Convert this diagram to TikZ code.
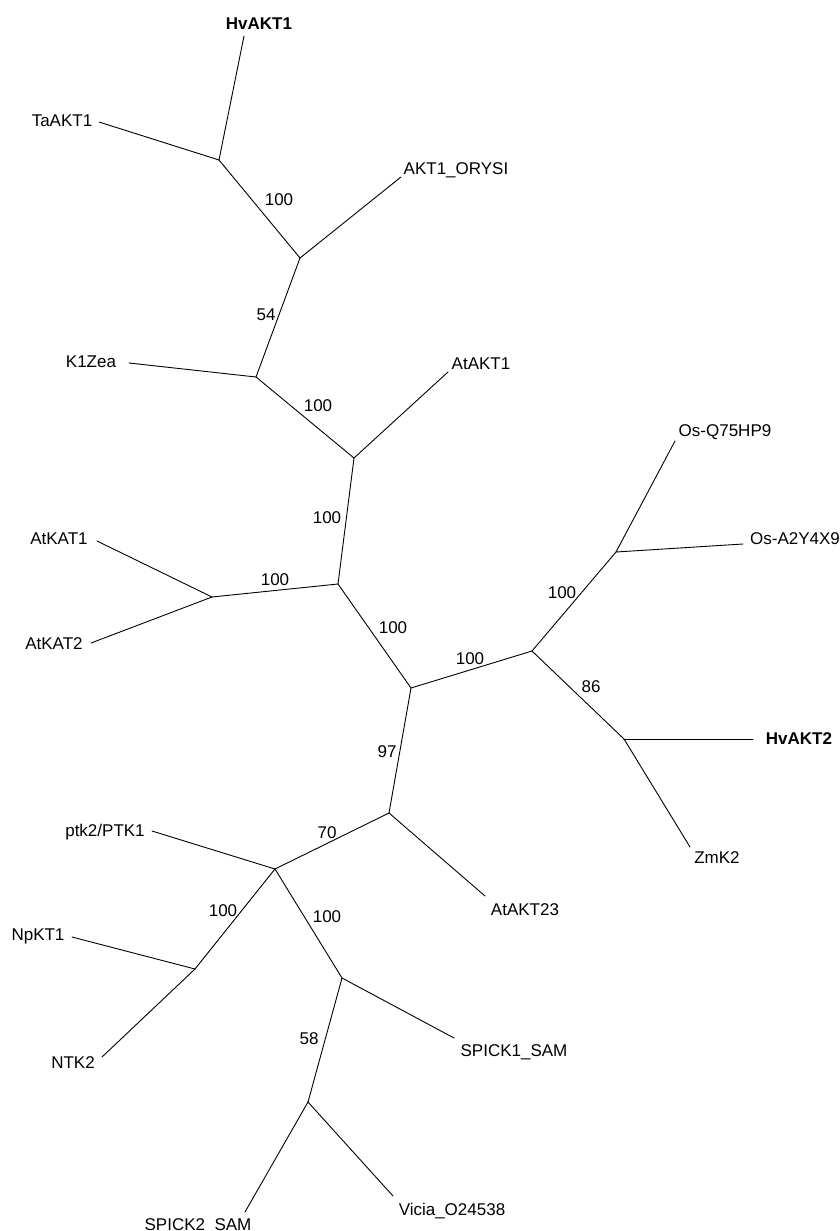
\documentclass[tikz,border=0pt]{standalone}
\usepackage{fontspec}
\setmainfont{Liberation Sans}
\begin{document}
\begin{tikzpicture}[x=1pt,y=-1pt,
  branch/.style={line width=0.9pt,line cap=round},
  taxon/.style={inner sep=0pt,text height=12.2pt,text depth=0pt,font=\fontsize{17}{20}\selectfont},
  keytaxon/.style={taxon,font=\fontsize{17}{20}\selectfont\bfseries},
  boot/.style={inner sep=0pt,text height=12.2pt,text depth=0pt,font=\fontsize{17}{20}\selectfont}]
\clip (0,0) rectangle (840,1231);
\fill[white] (0,0) rectangle (840,1231);

% internal nodes of the unrooted tree
\coordinate (nA) at (219,160);
\coordinate (nB) at (300,258);
\coordinate (nC) at (256,377);
\coordinate (nD) at (354,458);
\coordinate (nE) at (338,584);
\coordinate (nF) at (212,597);
\coordinate (nI) at (411,688);
\coordinate (nH) at (532,651);
\coordinate (nG) at (616,552);
\coordinate (nJ) at (624,739);
\coordinate (nK) at (389,813);
\coordinate (nL) at (275,869);
\coordinate (nM) at (195,969);
\coordinate (nN) at (342,978);
\coordinate (nO) at (308,1102);

% leaf tips
\coordinate (tHvAKT1) at (244,36);
\coordinate (tTaAKT1) at (99,122);
\coordinate (tORYSI) at (401,177);
\coordinate (tK1Zea) at (129,363);
\coordinate (tAtAKT1) at (448,372);
\coordinate (tAtKAT1) at (97,541);
\coordinate (tAtKAT2) at (91,643);
\coordinate (tQ75) at (675,441);
\coordinate (tA2Y) at (743,544);
\coordinate (tHvAKT2) at (753,739);
\coordinate (tZmK2) at (690,847);
\coordinate (tAtAKT23) at (485,896);
\coordinate (tPTK) at (152,831);
\coordinate (tNpKT1) at (72,937);
\coordinate (tNTK2) at (102,1057);
\coordinate (tSPICK1) at (454,1038);
\coordinate (tVicia) at (393,1196);
\coordinate (tSPICK2) at (245,1212);

% inner branches
\draw[branch] (nA) -- (nB);
\draw[branch] (nB) -- (nC);
\draw[branch] (nC) -- (nD);
\draw[branch] (nD) -- (nE);
\draw[branch] (nE) -- (nF);
\draw[branch] (nE) -- (nI);
\draw[branch] (nI) -- (nH);
\draw[branch] (nH) -- (nG);
\draw[branch] (nH) -- (nJ);
\draw[branch] (nI) -- (nK);
\draw[branch] (nK) -- (nL);
\draw[branch] (nL) -- (nM);
\draw[branch] (nL) -- (nN);
\draw[branch] (nN) -- (nO);

% terminal branches
\draw[branch] (nA) -- (tHvAKT1);
\draw[branch] (nA) -- (tTaAKT1);
\draw[branch] (nB) -- (tORYSI);
\draw[branch] (nC) -- (tK1Zea);
\draw[branch] (nD) -- (tAtAKT1);
\draw[branch] (nF) -- (tAtKAT1);
\draw[branch] (nF) -- (tAtKAT2);
\draw[branch] (nG) -- (tQ75);
\draw[branch] (nG) -- (tA2Y);
\draw[branch] (nJ) -- (tHvAKT2);
\draw[branch] (nJ) -- (tZmK2);
\draw[branch] (nK) -- (tAtAKT23);
\draw[branch] (nL) -- (tPTK);
\draw[branch] (nM) -- (tNpKT1);
\draw[branch] (nM) -- (tNTK2);
\draw[branch] (nN) -- (tSPICK1);
\draw[branch] (nO) -- (tVicia);
\draw[branch] (nO) -- (tSPICK2);

% taxon labels
\node[keytaxon] (lHvAKT1) at (259,23) {HvAKT1};
\node[taxon] (lTaAKT1) at (62,120) {TaAKT1};
\node[taxon] (lORYSI) at (456,168) {AKT1\_ORYSI};
\node[taxon] (lK1Zea) at (91,361) {K1Zea};
\node[taxon] (lAtAKT1) at (481,363) {AtAKT1};
\node[taxon] (lAtKAT1) at (59,538) {AtKAT1};
\node[taxon] (lAtKAT2) at (54,643) {AtKAT2};
\node[taxon] (lQ75) at (725,430) {Os-Q75HP9};
\node[taxon] (lA2Y) at (795,538) {Os-A2Y4X9};
\node[keytaxon] (lHvAKT2) at (799,738) {HvAKT2};
\node[taxon] (lZmK2) at (717,857) {ZmK2};
\node[taxon] (lAtAKT23) at (525,909) {AtAKT23};
\node[taxon] (lPTK) at (105,830) {ptk2/PTK1};
\node[taxon] (lNpKT1) at (38,934) {NpKT1};
\node[taxon] (lNTK2) at (73,1062) {NTK2};
\node[taxon] (lSPICK1) at (514,1050) {SPICK1\_SAM};
\node[taxon] (lVicia) at (452,1209) {Vicia\_O24538};
\node[taxon] (lSPICK2) at (198,1224) {SPICK2\_SAM};

% bootstrap support values
\node[boot] (bAB) at (279,199) {100};
\node[boot] (bBC) at (266,314) {54};
\node[boot] (bCD) at (318,405) {100};
\node[boot] (bDE) at (327,517) {100};
\node[boot] (bEF) at (275,579) {100};
\node[boot] (bEI) at (393,627) {100};
\node[boot] (bIH) at (470,658) {100};
\node[boot] (bHG) at (562,592) {100};
\node[boot] (bHJ) at (591,686) {86};
\node[boot] (bIK) at (387,751) {97};
\node[boot] (bKL) at (327,832) {70};
\node[boot] (bLM) at (223,910) {100};
\node[boot] (bLN) at (327,916) {100};
\node[boot] (bNO) at (309,1038) {58};
\end{tikzpicture}
\end{document}
